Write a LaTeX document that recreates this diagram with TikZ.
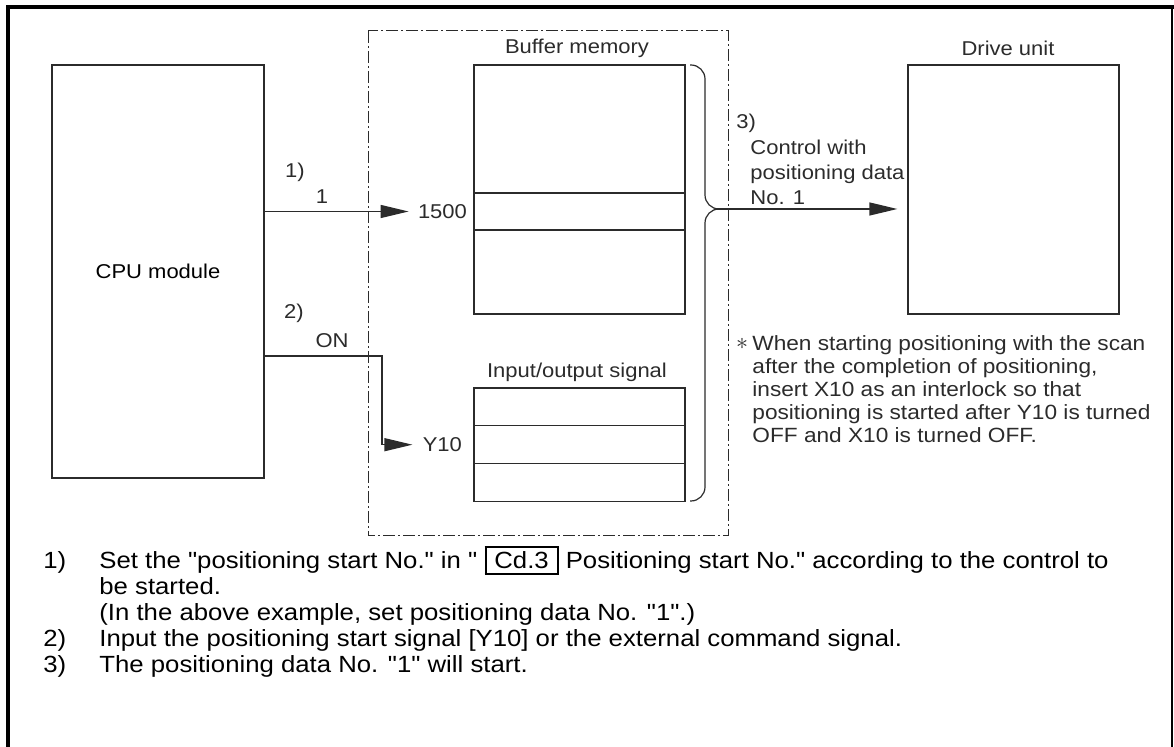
\documentclass[tikz,border=0pt]{standalone}
\usepackage{fontspec}
\setmainfont{Liberation Sans}[Ligatures=TeXOff, FakeStretch=1.1]
\usetikzlibrary{arrows.meta,positioning,calc}
\definecolor{ink}{HTML}{2B2B2B}
\newcommand{\cdbox}[1]{{\setlength{\fboxrule}{1pt}\setlength{\fboxsep}{2pt}\fbox{\,#1\,}}}

\begin{document}
\begin{tikzpicture}[x=0.5pt, y=-0.5pt,
    unitbox/.style={draw=ink, line width=0.65pt, inner sep=0pt, font=\fontsize{10}{12}\selectfont},
    sig/.style={draw=ink, line width=0.65pt, -{Triangle[length=14pt, width=6.5pt]}},
    lbl/.style={font=\fontsize{10}{12.5}\selectfont, inner sep=1pt, text=ink},
    note/.style={font=\fontsize{11.7}{14}\selectfont, inner sep=0pt, anchor=base west}]
    \useasboundingbox (0,0) rectangle (1174,747);

    % Frame
    \draw[line width=2pt] (8,747) -- (8,7) -- (1174,7);
    \draw[line width=0.6pt] (1172,7) -- (1172,747);

    % Module boundary
    \draw[ink, line width=0.5pt, dash pattern=on 6pt off 1.5pt on 1pt off 1.5pt] (368,31) rectangle (728,536);

    % Units
    \node[unitbox, minimum width=106pt, minimum height=206.5pt] (cpu) at (158,271.5) {CPU module};
    \node[unitbox, minimum width=105.5pt, minimum height=124.5pt] (buf) at (579.5,189.5) {};
    \node[unitbox, minimum width=105.5pt, minimum height=18.5pt] (bufrow) at (579.5,211.5) {};
    \node[unitbox, minimum width=105.5pt, minimum height=124.5pt] (drive) at (1013.5,189.5) {};
    \foreach \i in {0,1,2} {
        \node[unitbox, minimum width=105.5pt, minimum height=18.85pt] (io\i) at (579.5,407+37.7*\i) {};
    }
    \node[lbl] (buftitle) at (577,48) {Buffer memory};
    \node[lbl] (iotitle) at (577,372) {Input/output signal};
    \node[lbl] (drivetitle) at (1008,48) {Drive unit};

    % Step 1
    \node[lbl, left=2pt of bufrow] (addr) {1500};
    \node[lbl] (stepa) at (295,172) {1)};
    \node[lbl] (vala) at (322,197) {1};
    \draw[sig, shorten >=3.5pt] (cpu.east |- addr) -- (addr.west);

    % Step 2
    \node[lbl, left=4.5pt of io1] (ysig) {Y10};
    \node[lbl] (stepb) at (294,313) {2)};
    \node[lbl] (valb) at (332,341) {ON};
    \coordinate (bend) at (382,356);
    \draw[sig, shorten >=4pt] (cpu.east |- bend) -- (bend) |- (ysig.west);

    % Step 3
    \coordinate (tip) at (717,209);
    \draw[ink, line width=0.6pt, rounded corners=7pt] (690,65) -- (705,65) -- (705,209) -- (tip);
    \draw[ink, line width=0.6pt, rounded corners=7pt] (tip) -- (705,209) -- (705,501) -- (690,501);
    \draw[sig, shorten >=5pt] (tip) -- (drive.west |- tip);
    \node[lbl, anchor=west] (stepc) at (734,123) {3)};
    \node[lbl, anchor=west, align=left] (ctrl) at (748,172) {Control with\\positioning data\\No. 1};

    % Remark
    \node[lbl, font=\fontsize{13}{14}\selectfont] (star) at (742,344) {$\ast$};
    \node[lbl, anchor=west, align=left, inner sep=0pt, font=\fontsize{10.3}{11.5}\selectfont] (remark) at (752,389)
        {When starting positioning with the scan\\after the completion of positioning,\\insert X10 as an interlock so that\\positioning is started after Y10 is turned\\OFF and X10 is turned OFF.};

    % Explanations
    \node[note] (numa) at (43,568.5) {1)};
    \node[note] (texta) at (99,568.5) {Set the "positioning start No." in " \cdbox{Cd.3} Positioning start No." according to the control to};
    \node[note] (textaa) at (99,594.5) {be started.};
    \node[note] (textab) at (99,620.5) {(In the above example, set positioning data No. "1".)};
    \node[note] (numb) at (43,646.5) {2)};
    \node[note] (textb) at (99,646.5) {Input the positioning start signal [Y10] or the external command signal.};
    \node[note] (numc) at (43,672.5) {3)};
    \node[note] (textc) at (99,672.5) {The positioning data No. "1" will start.};

\end{tikzpicture}
\end{document}
